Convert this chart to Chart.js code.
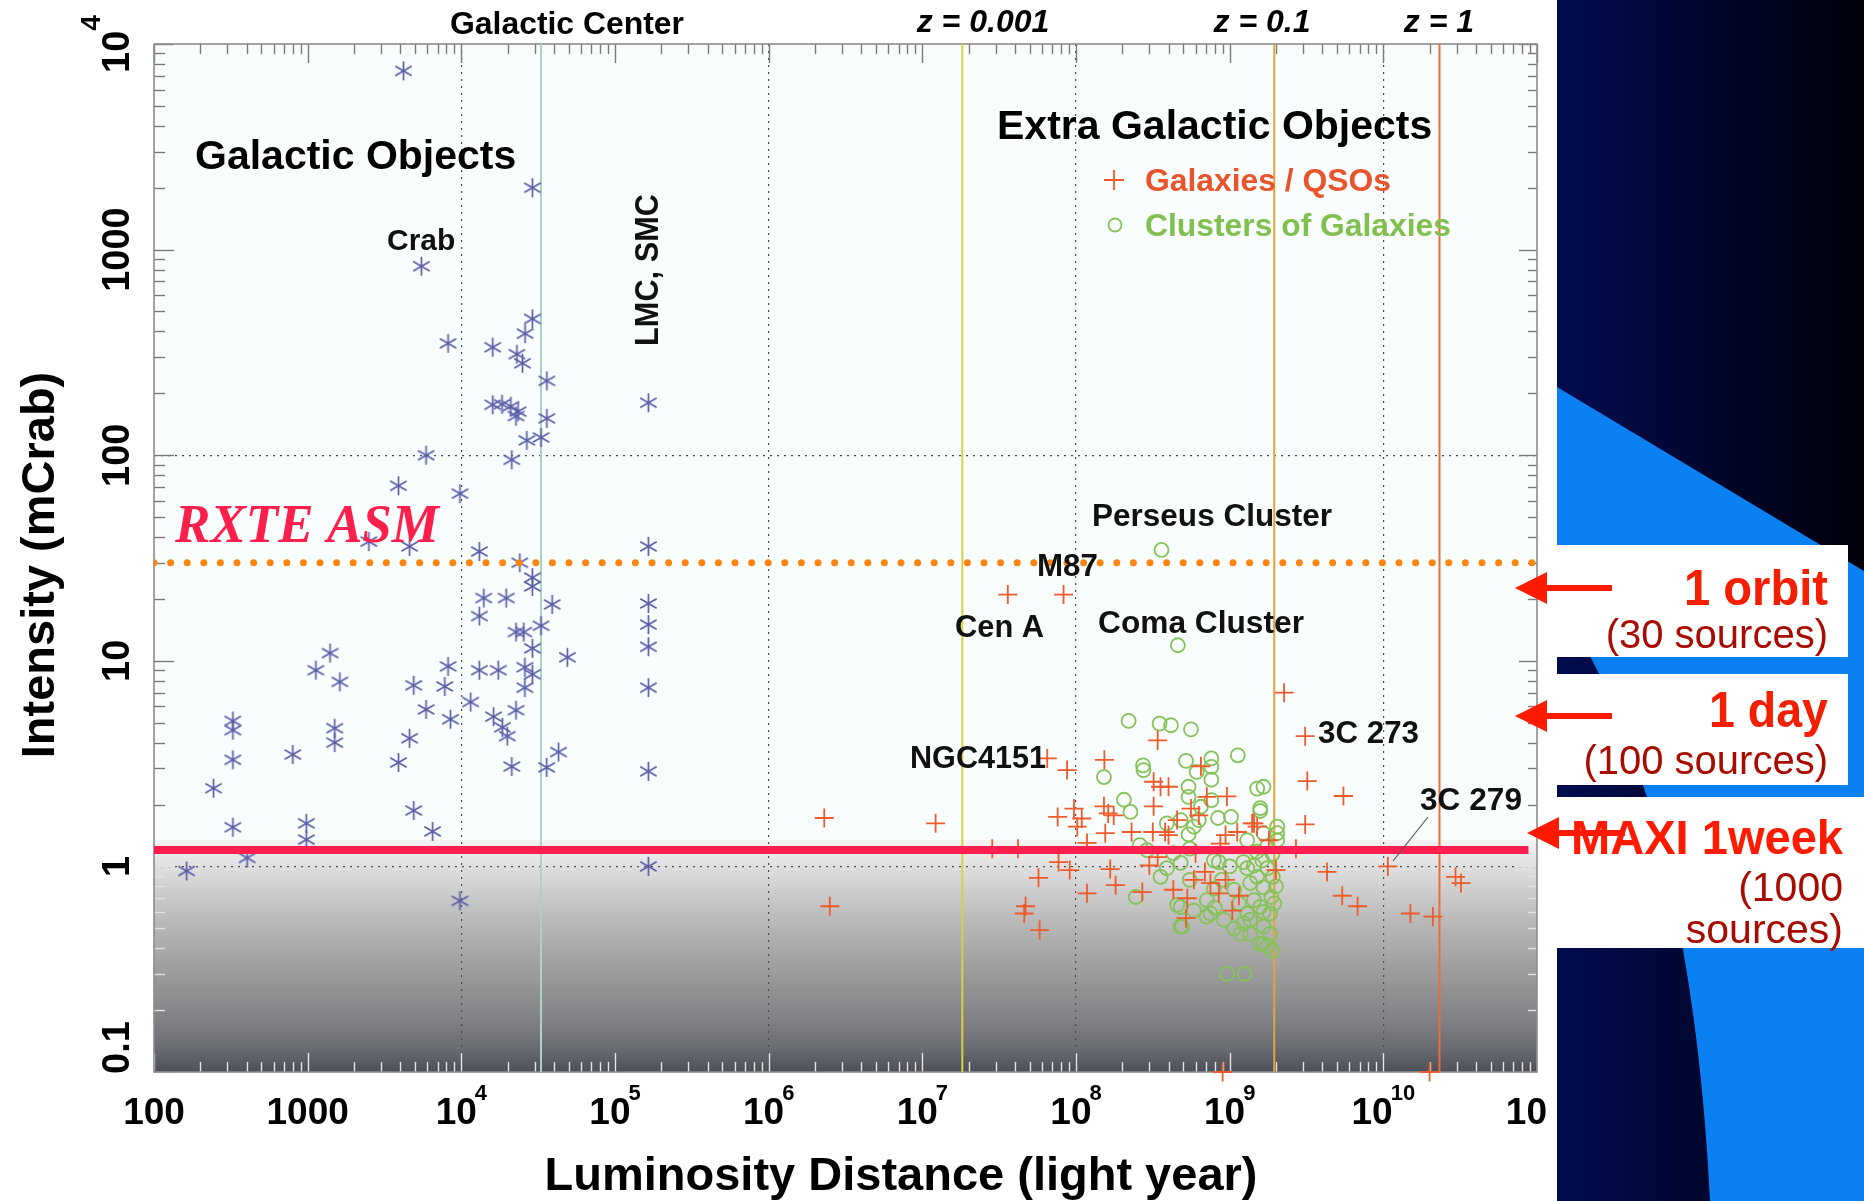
<!DOCTYPE html>
<html lang="en">
<head>
<meta charset="UTF-8">
<title>X-ray sources: intensity vs luminosity distance</title>
<script src="https://cdn.jsdelivr.net/npm/chart.js"></script>
<style>
  html, body { margin: 0; padding: 0; background: #fff; }
  canvas { display: block; }
</style>
</head>
<body>
<canvas id="chart" width="1864" height="1201"></canvas>
<script>
// luminosity distance (light year), intensity (mCrab)
const galacticObjects = [
  [4200, 7400], [29000, 2000], [5500, 830], [29000, 460], [26000, 390], [8200, 350],
  [16000, 335], [23000, 310], [25000, 280], [36000, 230], [165000, 180], [16000, 176],
  [18400, 177], [21000, 173], [23400, 163], [22700, 155], [36000, 151], [26700, 118],
  [33000, 122], [5900, 100], [21300, 95], [3900, 71], [9800, 65], [2500, 38],
  [4600, 36], [13100, 34], [165000, 36], [24000, 30], [29000, 25.4], [29000, 23],
  [14000, 20.2], [19600, 20.2], [39000, 18.8], [165000, 19], [13100, 16.5], [165000, 15],
  [33000, 14.8], [22700, 13.8], [25500, 13.8], [29000, 11.5], [165000, 11.7], [49000, 10.4],
  [1400, 10.9], [1130, 9.0], [1620, 7.9], [8200, 9.4], [13100, 9.0], [17400, 9.0],
  [25900, 9.3], [29000, 8.6], [25900, 7.4], [4900, 7.6], [7800, 7.5], [165000, 7.4],
  [11500, 6.3], [5900, 5.8], [8500, 5.2], [16200, 5.35], [22700, 5.75], [326, 5.1],
  [326, 4.6], [1500, 4.7], [1500, 4.0], [18500, 4.75], [19900, 4.3], [4600, 4.2],
  [326, 3.3], [800, 3.5], [3900, 3.2], [21300, 3.06], [42900, 3.6], [35900, 3.03],
  [165000, 2.9], [244, 2.4], [4900, 1.87], [6500, 1.48], [326, 1.55], [980, 1.62],
  [980, 1.35], [404, 1.1], [163, 0.95], [165000, 1.0], [9800, 0.68]
];

const galaxiesQSOs = [
  [3.6e7, 21], [8.3e7, 21], [2.26e9, 7.0], [3.1e9, 4.3], [3.2e9, 2.6], [5.5e9, 2.2],
  [3.1e9, 1.6], [2.7e9, 1.22], [2.0e9, 0.96], [4.3e9, 0.94], [1.07e10, 1.0], [5.4e9, 0.72],
  [6.8e9, 0.64], [1.5e10, 0.59], [2.1e10, 0.57], [2.95e10, 0.89], [3.2e10, 0.83], [1.44e9, 1.62],
  [6.5e7, 3.35], [8.75e7, 2.94], [2.3e6, 1.72], [1.22e7, 1.62], [2.85e7, 1.22], [4.2e7, 1.22],
  [7.6e7, 1.74], [9.7e7, 1.91], [7.7e7, 1.05], [9.1e7, 0.96], [5.7e7, 0.88], [2.5e6, 0.64],
  [4.7e7, 0.64], [4.6e7, 0.59], [5.8e7, 0.49], [1.53e8, 3.3], [3.4e8, 4.1], [1.09e8, 1.71],
  [1.02e8, 1.56], [1.52e8, 1.96], [1.62e8, 1.81], [1.76e8, 1.77], [1.55e8, 1.45], [1.18e8, 1.30],
  [3.2e8, 2.58], [3.55e8, 2.44], [4.0e8, 2.44], [3.2e8, 1.96], [2.3e8, 1.47], [3.16e8, 1.47],
  [3.8e8, 1.47], [4.55e8, 1.68], [4.0e8, 1.42], [6.5e8, 3.07], [7.1e8, 2.18], [9.6e8, 2.19],
  [5.6e8, 1.91], [6.3e8, 1.77], [1.12e9, 1.47], [1.40e9, 1.62], [1.51e9, 1.56], [9.4e8, 1.42],
  [8.7e8, 1.29], [1.8e9, 1.34], [1.67e8, 0.97], [1.81e8, 0.81], [1.18e8, 0.74], [3.0e8, 1.01],
  [3.4e8, 1.11], [2.7e8, 0.75], [4.3e8, 0.77], [5.3e8, 0.70], [5.85e8, 0.86], [6.0e8, 1.16],
  [6.9e8, 0.94], [7.5e8, 0.83], [9.4e8, 0.86], [8.5e8, 0.74], [1.15e9, 0.72], [1.04e9, 0.61],
  [5.2e8, 0.56], [9.0e8, 0.1], [2.0e10, 0.1]
];

const galaxyClusters = [
  [3.6e8, 34.6], [4.6e8, 11.9], [2.2e8, 5.1], [3.5e8, 4.95], [4.15e8, 4.86], [5.6e8, 4.64],
  [1.13e9, 3.47], [2.73e8, 3.10], [2.75e8, 2.94], [5.2e8, 3.26], [7.6e8, 3.35], [7.6e8, 3.05],
  [6.1e8, 2.88], [1.52e8, 2.72], [7.6e8, 2.64], [5.4e8, 2.44], [5.4e8, 2.18], [1.51e9, 2.39],
  [1.66e9, 2.44], [2.05e8, 2.11], [2.26e8, 1.84], [7.6e8, 2.10], [6.5e8, 1.95], [1.58e9, 1.86],
  [8.4e8, 1.72], [1.02e9, 1.74], [4.8e8, 1.68], [6.3e8, 1.68], [5.85e8, 1.56], [2.04e9, 1.56],
  [5.4e8, 1.43], [1.66e9, 1.45], [2.04e9, 1.34], [1.3e9, 1.34], [2.6e8, 1.27], [2.9e8, 1.2],
  [5.5e8, 1.22], [4.3e8, 1.16], [4.8e8, 1.04], [3.9e8, 0.98], [3.55e8, 0.89], [2.45e8, 0.71],
  [7.9e8, 1.07], [8.5e8, 1.05], [1.0e9, 1.0], [1.23e9, 1.05], [1.3e9, 0.98], [1.44e9, 1.01],
  [1.63e9, 1.07], [1.76e9, 0.98], [1.91e9, 0.89], [1.51e9, 0.89], [1.36e9, 0.83], [1.66e9, 0.79],
  [1.87e9, 0.71], [1.58e9, 0.635], [1.83e9, 0.59], [1.36e9, 0.55], [1.66e9, 0.51], [1.83e9, 0.47],
  [1.58e9, 0.42], [1.76e9, 0.41], [1.9e9, 0.39], [9.6e8, 0.30], [1.25e9, 0.30], [1.07e9, 0.77],
  [8.9e8, 0.86], [7.9e8, 0.78], [7.5e8, 0.59], [9.2e8, 0.55], [1.07e9, 0.50], [1.18e9, 0.47],
  [4.8e8, 0.635], [4.8e8, 0.51], [5.85e8, 0.61], [7.1e8, 0.685], [5.5e8, 0.86], [1.15e9, 0.66],
  [1.44e9, 0.685], [1.66e9, 0.60], [1.3e9, 0.59], [3.9e8, 1.62], [4.55e8, 0.65], [4.9e8, 0.51],
  [7.1e8, 0.57], [8.0e8, 0.63], [1.23e9, 0.53], [1.36e9, 0.47], [1.66e9, 0.42], [1.58e9, 1.92],
  [2.04e9, 1.45], [1.9e9, 1.15], [2.0e9, 0.80], [1.95e9, 0.66], [1.75e9, 1.25], [1.5e9, 1.18]
];

// reference distances: Galactic Center and redshifts
const markerLinesX = [33000, 1.82e7, 1.95e9, 2.32e10];
const markerLineNames = ['Galactic Center', 'z = 0.001', 'z = 0.1', 'z = 1'];

// sensitivity levels (mCrab)
const rxteLevel = 30;
const maxiLevel = 1.2;

const xTickLabels = ['100', '1000', '10^4', '10^5', '10^6', '10^7', '10^8', '10^9', '10^10', '10'];
const yTickLabels = ['0.1', '1', '10', '100', '1000', '10^4'];
const xGridExp = [4, 6, 8, 10];
const yGridExp = [0, 2];

// ---- styling ----
const SANS = '"Liberation Sans", Arial, Helvetica, sans-serif';
const SERIF = '"Liberation Serif", "Times New Roman", serif';
const lineColors = ['#a9d3c3', '#dccf3e', '#e0a43a', '#ea6d38'];
const C_GAL = '#5b5ea7';
const C_QSO = '#ee5a2a';
const C_CLU = '#86c25a';

function logTicks(e0, e1) {
  const out = [];
  for (let e = e0; e < e1; e++) {
    for (let m = 1; m < 10; m++) out.push(m * Math.pow(10, e));
  }
  out.push(Math.pow(10, e1));
  return out;
}
function decadeOf(v) {
  const l = Math.log10(v);
  return Math.abs(l - Math.round(l)) < 1e-6 ? Math.round(l) : null;
}

// six-armed asterisk used for galactic sources
function asterisk(r, color, lw) {
  const c = document.createElement('canvas');
  const s = Math.ceil(2 * r + 2 * lw);
  c.width = c.height = s;
  const g = c.getContext('2d');
  g.strokeStyle = color;
  g.lineWidth = lw;
  g.translate(s / 2, s / 2);
  for (let k = 0; k < 3; k++) {
    const a = Math.PI / 2 + k * Math.PI / 3;
    g.beginPath();
    g.moveTo(Math.cos(a) * r, Math.sin(a) * r);
    g.lineTo(-Math.cos(a) * r, -Math.sin(a) * r);
    g.stroke();
  }
  return c;
}

function txt(ctx, s, x, y, font, color, align, maxW, rot) {
  ctx.save();
  ctx.font = font;
  ctx.fillStyle = color || '#000';
  ctx.textAlign = align || 'left';
  ctx.textBaseline = 'alphabetic';
  if (rot) { ctx.translate(x, y); ctx.rotate(rot); x = 0; y = 0; }
  if (maxW) ctx.fillText(s, x, y, maxW); else ctx.fillText(s, x, y);
  ctx.restore();
}

// background: page, plot area, shaded region under the MAXI limit, slide panel
const backdrop = {
  id: 'backdrop',
  beforeDraw(chart) {
    const { ctx, chartArea: a, scales: { y } } = chart;
    ctx.save();
    ctx.fillStyle = '#ffffff';
    ctx.fillRect(0, 0, chart.width, chart.height);
    ctx.fillStyle = '#fafdfd';
    ctx.fillRect(a.left, a.top, a.right - a.left, a.bottom - a.top);

    const top = y.getPixelForValue(maxiLevel) - 10;
    const g = ctx.createLinearGradient(0, top, 0, a.bottom);
    g.addColorStop(0, '#f2f2f2');
    g.addColorStop(0.08, '#e6e6e6');
    g.addColorStop(0.18, '#d4d4d4');
    g.addColorStop(0.35, '#b9b9b9');
    g.addColorStop(0.56, '#9d9d9e');
    g.addColorStop(0.78, '#808185');
    g.addColorStop(0.9, '#686b71');
    g.addColorStop(1, '#4c4f57');
    ctx.fillStyle = g;
    ctx.fillRect(a.left, top, a.right - a.left, a.bottom - top);

    // slide panel on the right
    const px = 1557;
    const ng = ctx.createLinearGradient(px, 0, chart.width, 0);
    ng.addColorStop(0, '#010c50');
    ng.addColorStop(1, '#00010a');
    ctx.fillStyle = ng;
    ctx.fillRect(px, 0, chart.width - px, chart.height);
    ctx.fillStyle = '#0a80f2';
    ctx.beginPath();
    ctx.moveTo(px, 387);
    ctx.lineTo(chart.width, 571);
    ctx.lineTo(chart.width, chart.height);
    ctx.lineTo(1710, chart.height);
    ctx.quadraticCurveTo(1690, 800, px, 600);
    ctx.closePath();
    ctx.fill();

    ctx.fillStyle = '#ffffff';
    ctx.fillRect(px, 545, 1848 - px, 112);
    ctx.fillRect(px, 674, 1848 - px, 111);
    ctx.fillRect(px, 797, chart.width - px, 151);
    ctx.restore();
  }
};

// frame and inward tick marks
const frame = {
  id: 'frame',
  beforeDatasetsDraw(chart) {
    const { ctx, chartArea: a, scales: { x, y } } = chart;
    const shadeTop = y.getPixelForValue(maxiLevel);
    ctx.save();
    ctx.lineWidth = 1.4;
    x.ticks.forEach(t => {
      const px = Math.round(x.getPixelForValue(t.value)) + 0.5;
      const len = decadeOf(t.value) !== null ? 19 : 10;
      ctx.strokeStyle = '#e6e6e6';
      ctx.beginPath(); ctx.moveTo(px, a.bottom); ctx.lineTo(px, a.bottom - len); ctx.stroke();
      ctx.strokeStyle = '#7a7a7a';
      ctx.beginPath(); ctx.moveTo(px, a.top); ctx.lineTo(px, a.top + len); ctx.stroke();
    });
    y.ticks.forEach(t => {
      const py = Math.round(y.getPixelForValue(t.value)) + 0.5;
      const major = decadeOf(t.value) !== null;
      ctx.strokeStyle = py > shadeTop ? '#e2e2e2' : '#7a7a7a';
      let len = major ? 20 : 11;
      ctx.beginPath(); ctx.moveTo(a.left, py); ctx.lineTo(a.left + len, py); ctx.stroke();
      len = major ? 18 : 9;
      ctx.beginPath(); ctx.moveTo(a.right, py); ctx.lineTo(a.right - len, py); ctx.stroke();
    });
    ctx.strokeStyle = '#8c8c8c';
    ctx.lineWidth = 1.6;
    ctx.strokeRect(a.left, a.top, a.right - a.left, a.bottom - a.top);
    ctx.restore();
  }
};

// tick labels, axis titles, annotations, legend and slide notes
const annotate = {
  id: 'annotate',
  afterDraw(chart) {
    const { ctx, chartArea: a, scales: { x, y } } = chart;
    const B = s => 'bold ' + s + 'px ' + SANS;

    // x tick labels
    const xExps = [2, 3, 4, 5, 6, 7, 8, 9, 10, 11];
    xTickLabels.forEach((lab, i) => {
      const [base, sup] = lab.split('^');
      ctx.font = B(37);
      const wb = ctx.measureText(base).width;
      ctx.font = B(22);
      const ws = sup ? ctx.measureText(sup).width - 2 : 0;
      let cx = x.getPixelForValue(Math.pow(10, xExps[i]));
      let left = cx - (wb + ws) / 2;
      if (left + wb + ws > 1547) left = 1547 - wb - ws;
      txt(ctx, base, left, 1124, B(37), '#000');
      if (sup) txt(ctx, sup, left + wb - 2, 1100, B(22), '#000');
    });

    // y tick labels, rotated
    const yExps = [-1, 0, 1, 2, 3, 4];
    yTickLabels.forEach((lab, i) => {
      const [base, sup] = lab.split('^');
      ctx.font = B(38);
      const wb = ctx.measureText(base).width;
      ctx.font = B(28);
      const ws = sup ? ctx.measureText(sup).width : 0;
      const w = wb + ws;
      let cy = y.getPixelForValue(Math.pow(10, yExps[i]));
      cy = Math.min(cy, 1074 - w / 2);
      ctx.save();
      ctx.translate(129, cy);
      ctx.rotate(-Math.PI / 2);
      ctx.fillStyle = '#000';
      ctx.textBaseline = 'alphabetic';
      ctx.font = B(38);
      ctx.fillText(base, -w / 2, 0);
      if (sup) { ctx.font = B(28); ctx.fillText(sup, -w / 2 + wb, -29); }
      ctx.restore();
    });

    // axis titles
    txt(ctx, 'Luminosity Distance (light year)', 901, 1190, B(47), '#000', 'center', 728);
    txt(ctx, 'Intensity (mCrab)', 54, 565, B(47), '#000', 'center', 392, -Math.PI / 2);

    // names above the reference lines
    const topX = [567, 983, 1262, 1439];
    markerLineNames.forEach((n, i) => {
      if (i === 0) txt(ctx, n, topX[i], 34, B(32), '#000', 'center', 234);
      else txt(ctx, n, topX[i], 32, 'italic bold 32px ' + SANS, '#000', 'center');
    });

    // section headings and source names
    txt(ctx, 'Galactic Objects', 195, 169, B(41), '#000', 'left', 322);
    txt(ctx, 'Extra Galactic Objects', 997, 139, B(41), '#000', 'left', 436);
    const names = [
      ['Crab', 387, 250, 30, 71], ['Perseus Cluster', 1092, 526, 32, 240],
      ['M87', 1037, 576, 32, 61], ['Cen A', 955, 637, 32, 89],
      ['Coma Cluster', 1098, 633, 32, 206], ['NGC4151', 910, 768, 32, 136],
      ['3C 273', 1318, 743, 32, 101], ['3C 279', 1420, 810, 32, 102]
    ];
    names.forEach(([s, nx, ny, fs, w]) => txt(ctx, s, nx, ny, B(fs), '#111', 'left', w));
    txt(ctx, 'LMC, SMC', 658, 270, B(33), '#111', 'center', 152, -Math.PI / 2);

    ctx.save();
    ctx.strokeStyle = '#555';
    ctx.lineWidth = 1.2;
    ctx.beginPath(); ctx.moveTo(1428, 817); ctx.lineTo(1393, 861); ctx.stroke();
    ctx.restore();

    // legend for the extragalactic symbols
    ctx.save();
    ctx.lineWidth = 1.8;
    ctx.strokeStyle = C_QSO;
    ctx.beginPath();
    ctx.moveTo(1104, 180); ctx.lineTo(1124, 180);
    ctx.moveTo(1114, 170); ctx.lineTo(1114, 190);
    ctx.stroke();
    ctx.strokeStyle = C_CLU;
    ctx.beginPath(); ctx.arc(1115, 225, 6.5, 0, Math.PI * 2); ctx.stroke();
    ctx.restore();
    txt(ctx, 'Galaxies / QSOs', 1145, 191, B(32), '#e8552c', 'left', 246);
    txt(ctx, 'Clusters of Galaxies', 1145, 236, B(32), '#7fc04f', 'left', 306);

    txt(ctx, 'RXTE ASM', 175, 542, 'italic bold 54px ' + SERIF, '#ff1f4b', 'left', 264);

    // arrows and notes on the slide panel
    const arrows = [[588, 1515, 1612], [716, 1515, 1612], [833, 1527, 1625]];
    ctx.save();
    ctx.fillStyle = '#ff1a00';
    arrows.forEach(([ay, tip, tail]) => {
      ctx.fillRect(tip + 30, ay - 3, tail - tip - 30, 6);
      ctx.beginPath();
      ctx.moveTo(tip, ay);
      ctx.lineTo(tip + 32, ay - 16);
      ctx.lineTo(tip + 32, ay + 16);
      ctx.closePath();
      ctx.fill();
    });
    ctx.restore();
    const notes = [
      ['1 orbit', 1828, 605, B(50), '#f41e00', 144],
      ['(30 sources)', 1828, 648, '40px ' + SANS, '#a80c00', 236],
      ['1 day', 1828, 727, B(50), '#f41e00', 119],
      ['(100 sources)', 1828, 774, '40px ' + SANS, '#a80c00', 258],
      ['MAXI 1week', 1843, 854, B(48), '#ff1a00', 272],
      ['(1000', 1843, 901, '41px ' + SANS, '#a80c00', 106],
      ['sources)', 1843, 943, '41px ' + SANS, '#a80c00', 162]
    ];
    notes.forEach(([s, nx, ny, f, c, w]) => txt(ctx, s, nx, ny, f, c, 'right', w));
  }
};

const pts = arr => arr.map(([x, y]) => ({ x, y }));

const datasets = [
  {
    label: 'MAXI 1week', data: [{ x: 100, y: maxiLevel }, { x: 8.8e10, y: maxiLevel }],
    showLine: true, borderColor: '#ff1e4e', borderWidth: 8, pointRadius: 0
  },
  {
    label: 'RXTE ASM', data: [{ x: 100, y: rxteLevel }, { x: 1e11, y: rxteLevel }],
    showLine: true, borderColor: '#ff8412', borderWidth: 7, borderDash: [0, 16.6],
    borderCapStyle: 'round', pointRadius: 0
  },
  {
    label: 'Galactic Objects', data: pts(galacticObjects),
    pointStyle: asterisk(9.5, C_GAL, 1.7), pointRadius: 9
  },
  {
    label: 'Galaxies / QSOs', data: pts(galaxiesQSOs), clip: false,
    pointStyle: 'cross', pointRadius: 9.5, borderColor: C_QSO, borderWidth: 1.8
  },
  {
    label: 'Clusters of Galaxies', data: pts(galaxyClusters),
    pointStyle: 'circle', pointRadius: 7, borderColor: C_CLU, borderWidth: 1.8,
    backgroundColor: 'rgba(0,0,0,0)'
  }
].concat(markerLinesX.map((v, i) => ({
  label: markerLineNames[i], data: [{ x: v, y: 0.1 }, { x: v, y: 1e4 }],
  showLine: true, borderColor: lineColors[i], borderWidth: 2, pointRadius: 0
})));

const gridColor = exps => c => {
  const e = c.tick ? decadeOf(c.tick.value) : null;
  return e !== null && exps.includes(e) ? '#4a4a4a' : 'rgba(0,0,0,0)';
};

new Chart(document.getElementById('chart'), {
  type: 'scatter',
  data: { datasets },
  options: {
    responsive: false,
    animation: false,
    events: [],
    layout: { padding: { left: 154, top: 44, right: 327, bottom: 129 } },
    plugins: { legend: { display: false }, tooltip: { enabled: false } },
    scales: {
      x: {
        type: 'logarithmic', min: 100, max: 1e11,
        afterBuildTicks: s => { s.ticks = logTicks(2, 11).map(value => ({ value })); },
        afterFit: s => { s.height = 0; },
        ticks: { display: false },
        grid: { color: gridColor(xGridExp), lineWidth: 1.2, drawTicks: false },
        border: { display: false, dash: [2, 5] }
      },
      y: {
        type: 'logarithmic', min: 0.1, max: 1e4,
        afterBuildTicks: s => { s.ticks = logTicks(-1, 4).map(value => ({ value })); },
        afterFit: s => { s.width = 0; },
        ticks: { display: false },
        grid: { color: gridColor(yGridExp), lineWidth: 1.2, drawTicks: false },
        border: { display: false, dash: [2, 5] }
      }
    }
  },
  plugins: [backdrop, frame, annotate]
});
</script>
</body>
</html>
